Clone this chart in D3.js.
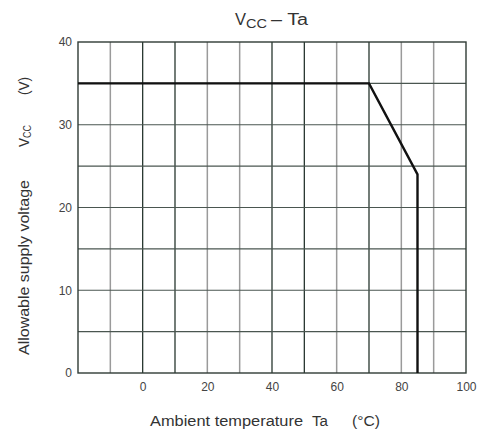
<!DOCTYPE html>
<html><head><meta charset="utf-8">
<script src="https://cdn.jsdelivr.net/npm/d3@7"></script>
<style>body{margin:0;background:#fff}</style>
</head><body>
<svg id="c" width="484" height="437"></svg>
<script>
const xTicks = [0, 20, 40, 60, 80, 100];
const yTicks = [0, 10, 20, 30, 40];
const xGrid = [-10, 0, 10, 20, 30, 40, 50, 60, 70, 80, 90];
const xGridDark = [0, 10, 40, 50, 70];
const yGrid = [5, 10, 15, 20, 25, 30, 35];
const curveTa = [-20, 70, 85, 85];
const curveVcc = [35, 35, 24, 0];

const svg = d3.select("#c");
const m = {l: 78, r: 466, t: 42, b: 373};
const x = d3.scaleLinear().domain([-20, 100]).range([m.l, m.r]);
const y = d3.scaleLinear().domain([0, 40]).range([m.b, m.t]);

const g = svg.append("g");
g.selectAll(".vg").data(xGrid).enter().append("line")
  .attr("x1", d => x(d)).attr("x2", d => x(d)).attr("y1", m.t).attr("y2", m.b)
  .attr("stroke", d => xGridDark.includes(d) ? "#27362f" : "#9a9a9a")
  .attr("stroke-width", d => xGridDark.includes(d) ? 1.3 : 1.5);
g.selectAll(".hg").data(yGrid).enter().append("line")
  .attr("x1", m.l).attr("x2", m.r).attr("y1", d => y(d)).attr("y2", d => y(d))
  .attr("stroke", "#4a5650").attr("stroke-width", 1.2);
g.append("rect").attr("x", m.l).attr("y", m.t).attr("width", m.r - m.l).attr("height", m.b - m.t)
  .attr("fill", "none").attr("stroke", "#2f3b35").attr("stroke-width", 1.4);

const pts = curveTa.map((t, i) => [t, curveVcc[i]]);
g.append("path").datum(pts)
  .attr("d", d3.line().x(d => x(d[0])).y(d => y(d[1])))
  .attr("fill", "none").attr("stroke", "#111").attr("stroke-width", 2.4);

const font = "Liberation Sans, Arial, sans-serif";
const xa = svg.append("g").attr("transform", `translate(0,${m.b})`)
  .call(d3.axisBottom(x).tickValues(xTicks).tickSize(0).tickPadding(9));
const ya = svg.append("g").attr("transform", `translate(${m.l},0)`)
  .call(d3.axisLeft(y).tickValues(yTicks).tickSize(0).tickPadding(6));
[xa, ya].forEach(a => {
  a.select(".domain").remove();
  a.selectAll("text").attr("font-family", font).attr("font-size", 12).attr("fill", "#444");
});

function txt(parent, s, x0, y0, len, size) {
  return parent.append("text").attr("x", x0).attr("y", y0)
    .attr("font-family", font).attr("font-size", size).attr("fill", "#333")
    .attr("textLength", len).attr("lengthAdjust", "spacingAndGlyphs").text(s);
}

// title
txt(svg, "V", 235, 25, 11, 16);
txt(svg, "CC", 246, 28, 21, 13);
txt(svg, "– Ta", 271, 25, 37, 16);

// x label
txt(svg, "Ambient temperature", 150, 426, 153, 14);
txt(svg, "Ta", 312, 426, 16, 14);
txt(svg, "(°C)", 352, 426, 28, 14);

// y label (rotated)
const yl = svg.append("g").attr("transform", "translate(29,0) rotate(-90)");
txt(yl, "Allowable supply voltage", -355, 0, 175, 14);
txt(yl, "V", -147, 0, 9, 14);
txt(yl, "CC", -138, 2, 13, 11);
txt(yl, "(V)", -95, 0, 18, 14);
</script>
</body></html>
